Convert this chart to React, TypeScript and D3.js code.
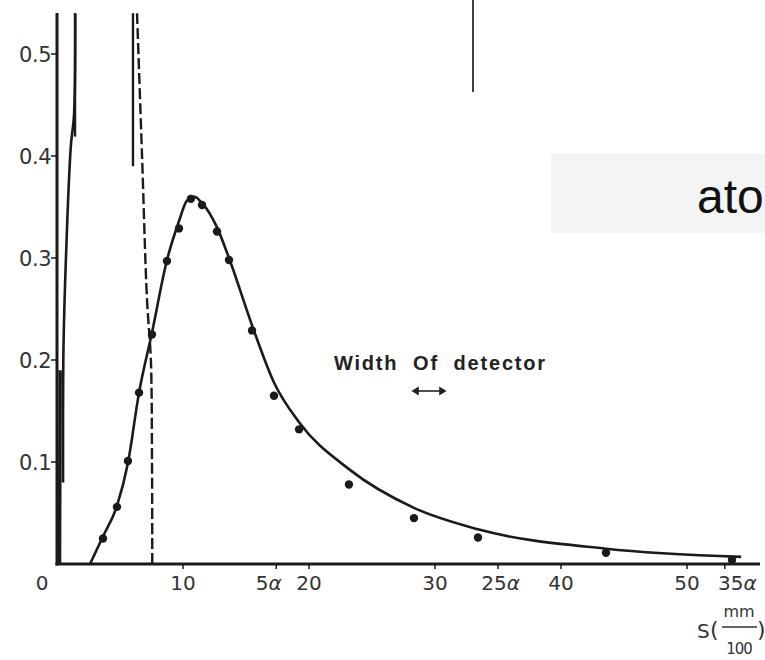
import * as d3 from 'd3';

// s in mm/100, intensity on the y axis
const fitS = [2.62, 3.65, 4.76, 5.63, 6.51, 7.54, 8.73, 9.68, 10.3, 10.9, 11.5, 12.7, 13.65, 15.48, 17.22, 19.21, 23.17, 28.33, 33.41, 43.57, 54.3];
const fitV = [0, 0.027, 0.057, 0.099, 0.168, 0.227, 0.298, 0.336, 0.356, 0.36, 0.354, 0.33, 0.3, 0.234, 0.178, 0.139, 0.093, 0.055, 0.034, 0.015, 0.007];

const pointS = [3.65, 4.76, 5.63, 6.51, 7.54, 8.73, 9.68, 10.63, 11.51, 12.7, 13.65, 15.48, 17.22, 19.21, 23.17, 28.33, 33.41, 43.57, 53.57];
const pointV = [0.025, 0.056, 0.101, 0.168, 0.225, 0.297, 0.329, 0.358, 0.352, 0.326, 0.298, 0.229, 0.165, 0.132, 0.078, 0.045, 0.026, 0.011, 0.004];

// steep dashed curve on the left
const dashS = [6.35, 6.75, 7.14, 7.45, 7.54, 7.56];
const dashV = [0.54, 0.4, 0.26, 0.2, 0.1, 0];

// steep solid curve near the y axis
const steepS = [1.45, 1.35, 1.1, 0.63, 0.5, 0.48];
const steepV = [0.54, 0.44, 0.41, 0.27, 0.2, 0.08];
const baseS = [0.25, 0.2];
const baseV = [0.19, 0];

// short vertical bars at the top
const barS = [1.43, 6.03];
const barTop = [0.54, 0.54];
const barBottom = [0.419, 0.39];

const yTicks = [0.1, 0.2, 0.3, 0.4, 0.5];
const yLabels = ['0.1', '0.2', '0.3', '0.4', '0.5'];
const xTicks = [10, 20, 30, 40, 50];
const xLabels = ['10', '20', '30', '40', '50'];
const alphaTicks = [17.4, 35, 53];
const alphaLabelPos = [16.8, 35.2, 54];
const alphaLabels = ['5', '25', '35'];

const W = 765;
const H = 660;

export default function App() {
  const x = d3.scaleLinear().domain([0, 55]).range([57, 750]);
  const y = d3.scaleLinear().domain([0, 0.5]).range([564, 54]);

  const line = d3
    .line<[number, number]>()
    .x((d) => x(d[0]))
    .y((d) => y(d[1]))
    .curve(d3.curveCatmullRom.alpha(0.5));
  const smooth = d3
    .line<[number, number]>()
    .x((d) => x(d[0]))
    .y((d) => y(d[1]))
    .curve(d3.curveMonotoneX);

  const fit = fitS.map((s, i) => [s, fitV[i]] as [number, number]);
  const dash = dashS.map((s, i) => [s, dashV[i]] as [number, number]);
  const steep = steepS.map((s, i) => [s, steepV[i]] as [number, number]);
  const base = baseS.map((s, i) => [s, baseV[i]] as [number, number]);

  const font = 'DejaVu Sans, sans-serif';
  const ink = '#1a1a1a';

  return (
    <svg width={W} height={H} style={{ position: 'absolute', left: 0, top: 0, background: '#fff' }}>
      {/* stray line at the top */}
      <line x1={473} x2={473} y1={0} y2={92} stroke="#111" strokeWidth={1.6} />

      {/* grey overlay box */}
      <rect x={551} y={153} width={214} height={80} fill="#f4f4f4" />
      <text x={697} y={213} fontFamily="Liberation Sans, Arial, sans-serif" fontSize={48} fill="#111">ato</text>

      {/* axes */}
      <line x1={x(0)} x2={x(0)} y1={13} y2={y(0) + 1.5} stroke={ink} strokeWidth={3} />
      <line x1={x(0) - 1.5} x2={760} y1={y(0)} y2={y(0)} stroke={ink} strokeWidth={3} />

      {yTicks.map((t, i) => (
        <g key={t}>
          <line x1={x(0) - 6} x2={x(0)} y1={y(t)} y2={y(t)} stroke={ink} strokeWidth={1.5} />
          <text x={51} y={y(t)} dy="0.36em" textAnchor="end" fontFamily={font} fontSize={21} fill="#333" letterSpacing={-0.5}>
            {yLabels[i]}
          </text>
        </g>
      ))}

      <text x={42} y={583} dy="0.36em" textAnchor="middle" fontFamily={font} fontSize={20} fill="#333">0</text>
      {xTicks.map((t, i) => (
        <g key={t}>
          <line x1={x(t)} x2={x(t)} y1={y(0)} y2={y(0) + 5} stroke={ink} strokeWidth={1.5} />
          <text x={x(t)} y={583} dy="0.36em" textAnchor="middle" fontFamily={font} fontSize={20} fill="#333">
            {xLabels[i]}
          </text>
        </g>
      ))}
      {alphaTicks.map((t, i) => (
        <g key={t}>
          <line x1={x(t)} x2={x(t)} y1={y(0)} y2={y(0) + 5} stroke={ink} strokeWidth={1.5} />
          <text x={x(alphaLabelPos[i])} y={583} dy="0.36em" textAnchor="middle" fontFamily={font} fontSize={20} fill="#333">
            {alphaLabels[i]}
            <tspan fontStyle="italic">α</tspan>
          </text>
        </g>
      ))}

      {/* curves */}
      <path d={smooth(fit) ?? ''} fill="none" stroke={ink} strokeWidth={2.6} />
      <path d={line(dash) ?? ''} fill="none" stroke={ink} strokeWidth={2.4} strokeDasharray="11 4" />
      <path d={line(steep) ?? ''} fill="none" stroke={ink} strokeWidth={2.6} />
      <path d={line(base) ?? ''} fill="none" stroke={ink} strokeWidth={3.5} />
      {barS.map((s, i) => (
        <line key={s} x1={x(s)} x2={x(s)} y1={y(barTop[i])} y2={y(barBottom[i])} stroke={ink} strokeWidth={2.4} />
      ))}

      {pointS.map((s, i) => (
        <circle key={s} cx={x(s)} cy={y(pointV[i])} r={4.2} fill={ink} />
      ))}

      {/* annotation */}
      <text x={334} y={370} fontFamily="Liberation Sans, Arial, sans-serif" fontWeight="bold" fontSize={20} fill="#222" letterSpacing={1.8} style={{ whiteSpace: 'pre' }}>
        {'Width  Of  detector'}
      </text>
      <g stroke="#222" strokeWidth={1.6} fill="#222">
        <line x1={414} x2={444} y1={391} y2={391} />
        <path d="M413,391 l5,-3 v6 z" />
        <path d="M445,391 l-5,-3 v6 z" />
      </g>

      {/* axis label S(mm/100) */}
      <g fontFamily={font} fill="#333">
        <text x={697} y={638} fontSize={20}>S</text>
        <text x={710} y={637} fontSize={22}>(</text>
        <text x={739} y={617} fontSize={16} textAnchor="middle">mm</text>
        <line x1={722} x2={757} y1={627} y2={627} stroke="#333" strokeWidth={1.6} />
        <text x={739} y={654} fontSize={15} textAnchor="middle" letterSpacing={-1}>100</text>
        <text x={757} y={637} fontSize={22}>)</text>
      </g>
    </svg>
  );
}
